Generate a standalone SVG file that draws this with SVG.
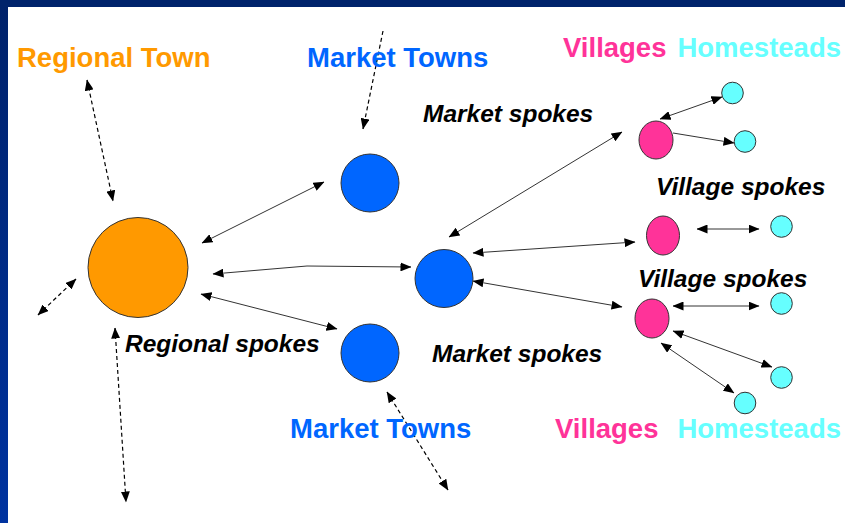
<svg xmlns="http://www.w3.org/2000/svg" width="845" height="523" viewBox="0 0 845 523">
<defs>
<linearGradient id="lb" x1="0" y1="0" x2="0" y2="1">
<stop offset="0" stop-color="#00226a"/>
<stop offset="1" stop-color="#0033a0"/>
</linearGradient>
<marker id="ah" viewBox="0 0 11 9" markerWidth="11" markerHeight="9" refX="10.5" refY="4.5" orient="auto-start-reverse" markerUnits="userSpaceOnUse">
<path d="M0,0 L11,4.5 L0,9 z" fill="#000"/>
</marker>
</defs>
<style>
.lbl{font-family:"Liberation Sans",Arial,sans-serif;font-weight:bold;font-size:27.5px}
.spk{font-family:"Liberation Sans",Arial,sans-serif;font-weight:bold;font-style:italic;font-size:24.5px;fill:#000}
.sol{fill:none;stroke:#333;stroke-width:1;marker-start:url(#ah);marker-end:url(#ah)}
.sgl{fill:none;stroke:#333;stroke-width:1;marker-end:url(#ah)}
.dsh{fill:none;stroke:#000;stroke-width:1.2;stroke-dasharray:4,3;marker-start:url(#ah);marker-end:url(#ah)}
.dsg{fill:none;stroke:#000;stroke-width:1.2;stroke-dasharray:4,3;marker-end:url(#ah)}
.nd{stroke:#333;stroke-width:1}
</style>
<rect x="0" y="0" width="845" height="523" fill="#fff"/>
<rect x="0" y="0" width="8" height="523" fill="url(#lb)"/>
<rect x="0" y="0" width="845" height="7" fill="#00236b"/>

<g id="connectors">
<line class="dsh" x1="87" y1="80" x2="113" y2="201"/>
<line class="dsh" x1="38" y1="315" x2="76" y2="279"/>
<line class="dsh" x1="115" y1="328" x2="126" y2="502"/>
<line class="dsg" x1="383" y1="31" x2="363" y2="129"/>
<line class="dsh" x1="387" y1="392" x2="448" y2="490"/>
<line class="sol" x1="202" y1="243" x2="324" y2="182"/>
<polyline class="sol" points="213,274 307,266 411,267"/>
<line class="sol" x1="201" y1="294" x2="337" y2="329"/>
<line class="sol" x1="449" y1="237" x2="622" y2="132"/>
<line class="sol" x1="473" y1="253" x2="635" y2="242"/>
<line class="sol" x1="473" y1="281" x2="622" y2="307"/>
<line class="sol" x1="660" y1="119" x2="722" y2="97"/>
<line class="sgl" x1="673" y1="133" x2="734" y2="143"/>
<line class="sol" x1="697" y1="229" x2="759" y2="229"/>
<line class="sol" x1="673" y1="306" x2="759" y2="306"/>
<line class="sol" x1="673" y1="331" x2="772" y2="367"/>
<line class="sol" x1="661" y1="343" x2="734" y2="393"/>
</g>

<g id="regional-town"><circle class="nd" cx="138" cy="267.5" r="50" fill="#ff9900"/></g>
<g id="market-town-top"><circle class="nd" cx="370" cy="183" r="29" fill="#0066ff"/></g>
<g id="market-town-mid"><circle class="nd" cx="444" cy="278.5" r="29" fill="#0066ff"/></g>
<g id="market-town-bottom"><circle class="nd" cx="370" cy="353" r="29" fill="#0066ff"/></g>
<g id="village-top"><ellipse class="nd" cx="656" cy="140" rx="17" ry="19" fill="#ff3399"/></g>
<g id="village-mid"><ellipse class="nd" cx="663" cy="235.5" rx="16.5" ry="19.5" fill="#ff3399"/></g>
<g id="village-bottom"><ellipse class="nd" cx="652" cy="318.5" rx="17" ry="19.5" fill="#ff3399"/></g>
<g id="homestead-1"><circle class="nd" cx="732.5" cy="93" r="10.8" fill="#66ffff"/></g>
<g id="homestead-2"><circle class="nd" cx="745" cy="141.5" r="10.8" fill="#66ffff"/></g>
<g id="homestead-3"><circle class="nd" cx="781.5" cy="226.5" r="10.8" fill="#66ffff"/></g>
<g id="homestead-4"><circle class="nd" cx="781.5" cy="303.5" r="10.8" fill="#66ffff"/></g>
<g id="homestead-5"><circle class="nd" cx="781.5" cy="377.5" r="10.8" fill="#66ffff"/></g>
<g id="homestead-6"><circle class="nd" cx="745" cy="403" r="10.8" fill="#66ffff"/></g>

<g id="labels">
<text class="lbl" x="17" y="67" fill="#ff9900" font-size="28">Regional Town</text>
<text class="lbl" x="307" y="67" fill="#0066ff">Market Towns</text>
<text class="lbl" x="290" y="438" fill="#0066ff">Market Towns</text>
<text class="lbl" x="563" y="57" fill="#ff3399">Villages</text>
<text class="lbl" x="841" y="57" fill="#66ffff" font-size="25.5" text-anchor="end">Homesteads</text>
<text class="lbl" x="555" y="438" fill="#ff3399">Villages</text>
<text class="lbl" x="841" y="438" fill="#66ffff" font-size="25.5" text-anchor="end">Homesteads</text>
<text class="spk" x="423" y="122">Market spokes</text>
<text class="spk" x="432" y="362">Market spokes</text>
<text class="spk" x="656" y="195">Village spokes</text>
<text class="spk" x="638" y="287">Village spokes</text>
<text class="spk" x="125" y="352" font-size="25">Regional spokes</text>
</g>
</svg>
